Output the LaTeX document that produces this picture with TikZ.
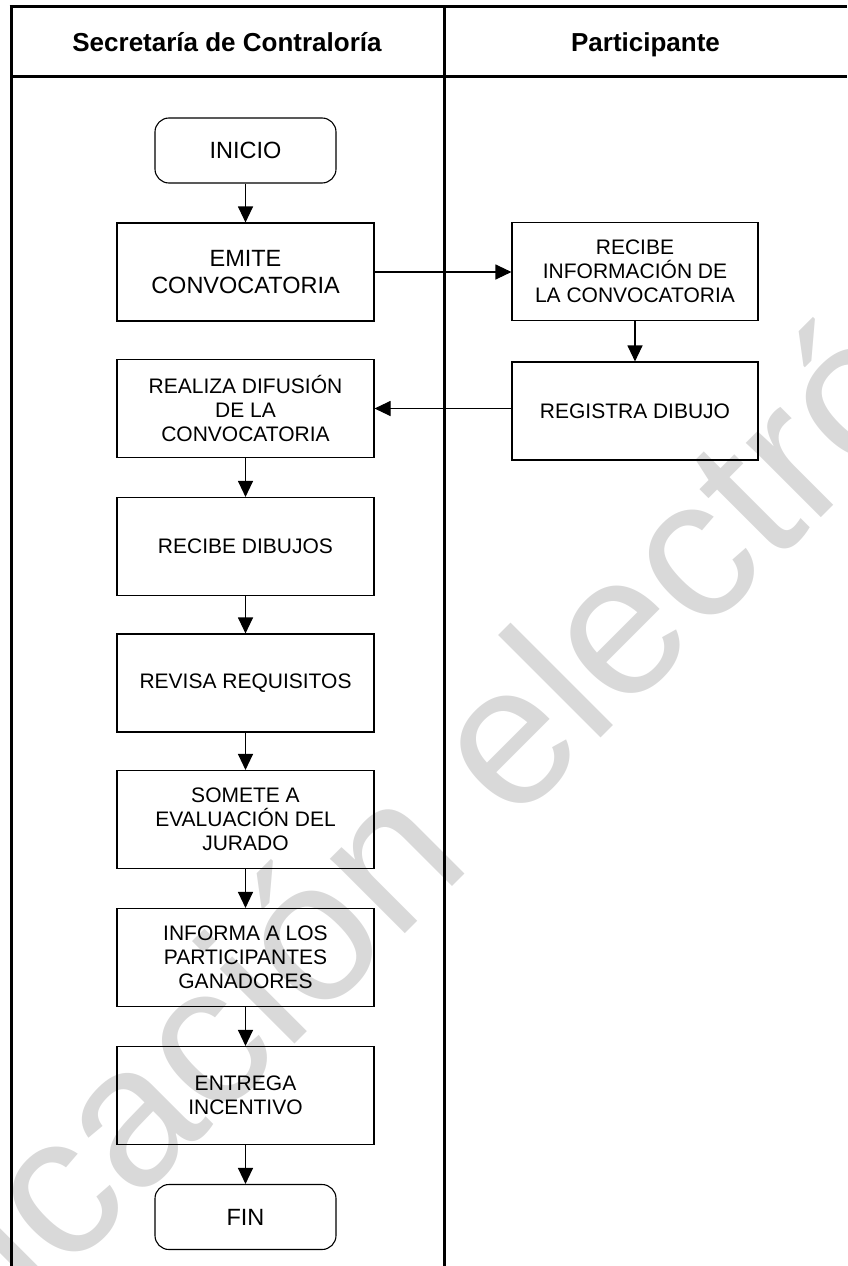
\documentclass[tikz,border=0pt]{standalone}
\usepackage{fontspec}
\setmainfont{Liberation Sans}
\usetikzlibrary{arrows.meta}
\begin{document}
\begin{tikzpicture}[x=1pt,y=-1pt,
  lane/.style={line width=3pt},
  proc/.style={draw, line width=1.1pt, minimum width=257pt, minimum height=98pt, align=center,
    font=\fontsize{21}{24.2}\selectfont, inner sep=0pt},
  procR/.style={proc, minimum width=246pt},
  term/.style={draw, rounded corners=14pt, line width=1.1pt, minimum width=181pt, minimum height=65pt,
    inner sep=0pt, font=\fontsize{23.5}{27}\selectfont},
  big/.style={font=\fontsize{23.5}{27}\selectfont},
  flow/.style={line width=1.1pt, -{Triangle[length=16pt,width=15pt]}},
  head/.style={font=\bfseries\fontsize{26}{30}\selectfont, anchor=base, inner sep=0pt},
  wmark/.style={rotate=45, anchor=base west, inner sep=0pt, text=black!15,
    font=\fontsize{200}{240}\selectfont}
]
\useasboundingbox (0,0) rectangle (847,1266);

% watermark
\begin{scope}
  \clip (0,0) rectangle (847,1266);
  \node[wmark] (wm) at (-249.5,1588.5) {Publicación electrónica};
\end{scope}

% swimlane frame
\draw[lane] (9.5,6) -- (847,6);
\draw[lane] (11,6) -- (11,1266);
\draw[lane] (444,6) -- (444,1266);
\draw[lane] (11,76) -- (847,76);

\node[head] (h1) at (227,51.7) {Secretaría de Contraloría};
\node[head] (h2) at (645.5,51.7) {Participante};

% nodes
\node[term] (inicio) at (245.5,150.5) {INICIO};
\node[proc, big] (emite) at (245.5,272) {EMITE\\CONVOCATORIA};
\node[procR] (recibeinfo) at (635,271.5) {RECIBE\\INFORMACIÓN DE\\LA CONVOCATORIA};
\node[procR] (registra) at (635,411) {REGISTRA DIBUJO};
\node[proc] (realiza) at (245.5,408.5) {REALIZA DIFUSIÓN\\DE LA\\CONVOCATORIA};
\node[proc] (recibe) at (245.5,546.5) {RECIBE DIBUJOS};
\node[proc] (revisa) at (245.5,683) {REVISA REQUISITOS};
\node[proc] (somete) at (245.5,819.5) {SOMETE A\\EVALUACIÓN DEL\\JURADO};
\node[proc] (informa) at (245.5,957.5) {INFORMA A LOS\\PARTICIPANTES\\GANADORES};
\node[proc] (entrega) at (245.5,1095.5) {ENTREGA\\INCENTIVO};
\node[term] (fin) at (245.5,1217) {FIN};

% connectors
\draw[flow] (inicio) -- (emite);
\draw[flow] (emite.east) -- (emite.east -| recibeinfo.west);
\draw[flow] (recibeinfo) -- (registra);
\draw[flow] (registra.west |- realiza.east) -- (realiza.east);
\draw[flow] (realiza) -- (recibe);
\draw[flow] (recibe) -- (revisa);
\draw[flow] (revisa) -- (somete);
\draw[flow] (somete) -- (informa);
\draw[flow] (informa) -- (entrega);
\draw[flow] (entrega) -- (fin);
\end{tikzpicture}
\end{document}
